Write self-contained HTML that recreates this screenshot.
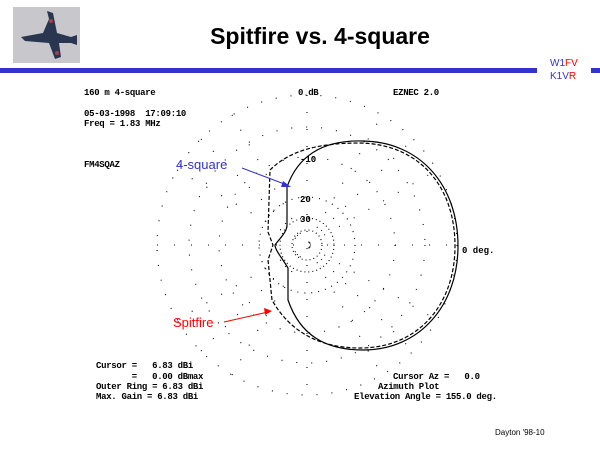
<!DOCTYPE html>
<html><head><meta charset="utf-8"><style>
body{margin:0;width:600px;height:450px;background:#fff;overflow:hidden;position:relative;font-family:"Liberation Sans",sans-serif}
.t{position:absolute;white-space:nowrap}
.m{font-family:"Liberation Mono",monospace;font-size:9px;font-weight:bold;color:#000;position:absolute;white-space:pre;letter-spacing:-0.3px}
</style></head><body>
<div style="position:absolute;left:13px;top:7px;width:67px;height:56px;background:#c8c8cc"></div>
<svg style="position:absolute;left:13px;top:7px" width="67" height="56">
<path d="M8 30 L30 26 L36 12 L34 4 L40 6 L44 26 L58 30 L64 28 L64 38 L58 36 L46 36 L48 50 L42 52 L36 36 L12 34 Z" fill="#2a3550"/>
<circle cx="38" cy="14" r="2" fill="#a04050"/><circle cx="44" cy="46" r="2" fill="#a04050"/>
</svg>
<div class="t" style="left:0;top:23px;width:640px;text-align:center;font-size:23px;font-weight:bold">Spitfire vs. 4-square</div>
<div style="position:absolute;left:0;top:68px;width:537px;height:5px;background:#3333cc"></div>
<div style="position:absolute;left:591px;top:68px;width:9px;height:5px;background:#3333cc"></div>
<div class="t" style="left:550px;top:58px;font-size:10px;color:#3333cc">W1<span style="color:#f00">FV</span></div>
<div class="t" style="left:550px;top:71px;font-size:10px;color:#3333cc">K1V<span style="color:#f00">R</span></div>
<div class="m" style="left:84px;top:88px">160 m 4-square</div>
<div class="m" style="left:298px;top:88px">0 dB</div>
<div class="m" style="left:393px;top:88px">EZNEC 2.0</div>
<div class="m" style="left:84px;top:109px">05-03-1998  17:09:10</div>
<div class="m" style="left:84px;top:119px">Freq = 1.83 MHz</div>
<div class="m" style="left:84px;top:160px">FM4SQAZ</div>
<div class="m" style="left:96px;top:361px">Cursor =   6.83 dBi</div>
<div class="m" style="left:96px;top:372px">       =   0.00 dBmax</div>
<div class="m" style="left:96px;top:382px">Outer Ring = 6.83 dBi</div>
<div class="m" style="left:96px;top:392px">Max. Gain = 6.83 dBi</div>
<div class="m" style="left:393px;top:372px">Cursor Az =   0.0</div>
<div class="m" style="left:378px;top:382px">Azimuth Plot</div>
<div class="m" style="left:354px;top:392px">Elevation Angle = 155.0 deg.</div>
<div class="t" style="left:495px;top:428px;font-size:8px">Dayton '98-10</div>
<svg style="position:absolute;left:0;top:0" width="600" height="450">
<g fill="none" stroke="#000" stroke-width="1.1" stroke-dasharray="1 14">
<circle cx="307" cy="245" r="150"/>
<circle cx="307" cy="245" r="118"/>
<circle cx="307" cy="245" r="88"/>
<circle cx="307" cy="245" r="48" stroke-dasharray="1 6"/>
<circle cx="307" cy="245" r="27" stroke-dasharray="1 3"/>
<circle cx="307" cy="245" r="15" stroke-dasharray="1 3"/>
<path d="M157 245H457M307 95V395M201 139L413 351M201 351L413 139M177 170L437 320M177 320L437 170M232 115L382 375M232 375L382 115" stroke-dasharray="1 16"/>
</g>
<g fill="none" stroke="#000" stroke-width="1.2">
<path d="M287 187 C300 150 330 140 363 141 C420 142 458 185 458 246 C458 305 420 350 363 350 C325 350 300 335 288 300 L288 268 C282 258 275 250 275 245 C280 238 287 232 287 225 Z"/>
<path d="M270 170 C290 150 320 143 360 143 C418 144 455 185 455 246 C455 305 418 348 360 348 C320 348 290 332 272 300 L268 260 L273 245 L268 232 L270 170 Z" stroke-dasharray="4 2"/>
</g>
<text x="300" y="162" font-family="Liberation Mono" font-size="9" font-weight="bold">-10</text>
<text x="300" y="202" font-family="Liberation Mono" font-size="9" font-weight="bold">20</text>
<text x="300" y="222" font-family="Liberation Mono" font-size="9" font-weight="bold">30</text>
<text x="462" y="253" font-family="Liberation Mono" font-size="9" font-weight="bold">0 deg.</text>
<text x="176" y="169" font-family="Liberation Sans" font-size="13" fill="#3333cc">4-square</text>
<line x1="242" y1="168" x2="287" y2="185" stroke="#3333cc"/>
<polygon points="291,187 283,181 281,187" fill="#3333cc"/>
<text x="173" y="327" font-family="Liberation Sans" font-size="13" fill="#f00">Spitfire</text>
<line x1="224" y1="322" x2="268" y2="312" stroke="#f00"/>
<polygon points="272,311 264,308 265,315" fill="#f00"/>
</svg>
</body></html>
